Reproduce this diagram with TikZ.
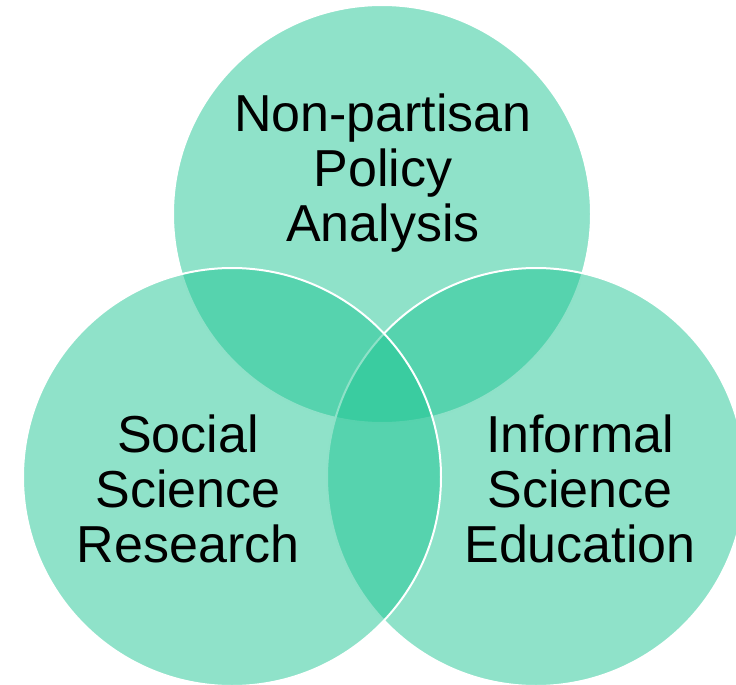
\documentclass[tikz,border=0pt]{standalone}
\usepackage{fontspec}
\setmainfont{Liberation Sans}
\definecolor{mint}{RGB}{31,197,147}

\begin{document}
\begin{tikzpicture}[
    x=1pt, y=-1pt,
    venn/.style={circle, draw=white, line width=2pt, fill=mint, fill opacity=0.5, minimum size=418pt, inner sep=0pt},
    lbl/.style={align=center, inner sep=0pt, font=\fontsize{52}{55}\selectfont}
]
\useasboundingbox (0,0) rectangle (736,685);
\clip (0,0) rectangle (736,685);
% circles: top first, then right, then left
\node[venn] (policy) at (382,214) {};
\node[venn] (education) at (536,477) {};
\node[venn] (research) at (232,477) {};
\node[lbl] (policytext) at (383,173.5) {Non-partisan\\Policy\\Analysis};
\node[lbl] (researchtext) at (188,488.5) {Social\\Science\\Research};
\node[lbl] (educationtext) at (580,488.5) {Informal\\Science\\Education};
\end{tikzpicture}
\end{document}
